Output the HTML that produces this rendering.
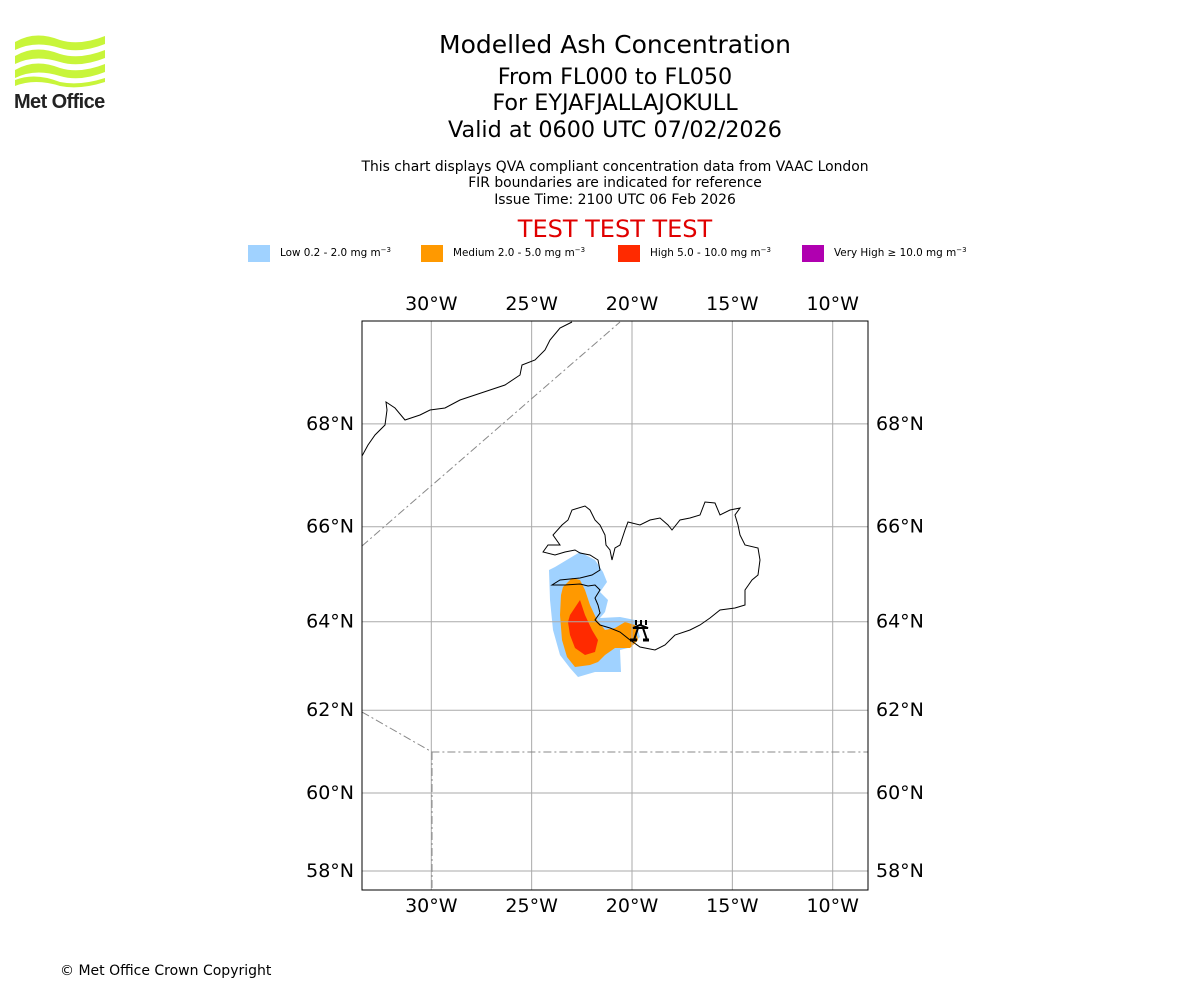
<!DOCTYPE html>
<html><head><meta charset="utf-8"><style>
body{margin:0;background:#fff;font-family:"Liberation Sans","DejaVu Sans",sans-serif}
</style></head><body>
<svg width="1200" height="1000" xmlns="http://www.w3.org/2000/svg" font-family="DejaVu Sans, Liberation Sans, sans-serif">
<g>
<path d="M15 42 Q35 30 60 40 Q80 46 105 36 L105 44 Q80 54 60 48 Q35 40 15 50Z" fill="#c8f53a"/>
<path d="M15 56 Q35 44 60 54 Q80 60 105 50 L105 58 Q80 68 60 62 Q35 54 15 64Z" fill="#c8f53a"/>
<path d="M15 70 Q35 58 60 68 Q80 74 105 64 L105 72 Q80 82 60 76 Q35 68 15 78Z" fill="#c8f53a"/>
<path d="M15 80 Q35 72 60 82 Q80 86 105 78 L105 82 Q80 90 60 86 Q35 78 15 86Z" fill="#c8f53a"/>
<text x="14" y="108" font-family="Liberation Sans, sans-serif" font-weight="bold" font-size="20" fill="#222" letter-spacing="-0.6">Met Office</text>
</g>
<g text-anchor="middle" fill="#000">
<text x="615" y="53" font-size="25">Modelled Ash Concentration</text>
<text x="615" y="84" font-size="22.3">From FL000 to FL050</text>
<text x="615" y="110" font-size="22.3">For EYJAFJALLAJOKULL</text>
<text x="615" y="137" font-size="22.3">Valid at 0600 UTC 07/02/2026</text>
<text x="615" y="171" font-size="13.9">This chart displays QVA compliant concentration data from VAAC London</text>
<text x="615" y="187" font-size="13.9">FIR boundaries are indicated for reference</text>
<text x="615" y="204" font-size="13.9">Issue Time: 2100 UTC 06 Feb 2026</text>
<text x="615" y="237" font-size="24" fill="#e00000">TEST TEST TEST</text>
</g>
<g font-size="10.4">
<rect x="248" y="245" width="22" height="17" fill="#a0d2ff"/>
<text x="280" y="256">Low 0.2 - 2.0 mg m<tspan dy="-4" font-size="7">−3</tspan></text>
<rect x="421" y="245" width="22" height="17" fill="#ff9900"/>
<text x="453" y="256">Medium 2.0 - 5.0 mg m<tspan dy="-4" font-size="7">−3</tspan></text>
<rect x="618" y="245" width="22" height="17" fill="#ff2a00"/>
<text x="650" y="256">High 5.0 - 10.0 mg m<tspan dy="-4" font-size="7">−3</tspan></text>
<rect x="802" y="245" width="22" height="17" fill="#b000b0"/>
<text x="834" y="256">Very High  ≥  10.0 mg m<tspan dy="-4" font-size="7">−3</tspan></text>
</g>
<defs><clipPath id="c"><rect x="362" y="321" width="506" height="569"/></clipPath></defs>
<g clip-path="url(#c)">
<path fill="#a0d2ff" d="M555 567 L580 552 L595 560 L603 572 L607 582 L600 592 L608 600 L605 612 L600 618 L620 617 L635 620 L640 637 L628 648 L620 650 L621 672 L595 672 L578 677 L570 668 L560 655 L553 630 L550 600 L549 570Z"/>
<path fill="#ff9900" d="M563 587 L572 578 L580 580 L585 590 L590 605 L597 620 L605 630 L615 628 L625 622 L635 625 L638 640 L630 648 L615 648 L605 655 L598 662 L590 665 L575 667 L567 657 L562 640 L560 615 L561 595Z"/>
<path fill="#ff2a00" d="M570 615 L580 600 L585 615 L592 630 L598 640 L595 652 L585 655 L575 648 L570 635 L568 622Z"/>
<g id="grid" stroke="#aaa" stroke-width="1" fill="none"></g>
<path fill="none" stroke="#000" stroke-width="1" d="M543 552 L548 545 L560 545 L553 535 L562 525 L568 520 L572 510 L585 506 L590 510 L595 520 L600 525 L605 535 L606 545 L610 550 L612 560 L615 548 L620 545 L625 530 L628 522 L640 525 L650 520 L660 518 L668 525 L672 530 L680 520 L690 518 L700 515 L705 502 L715 503 L720 515 L730 510 L740 508 L735 515 L738 525 L740 535 L745 545 L758 548 L760 560 L758 575 L752 580 L745 590 L745 605 L735 608 L720 610 L710 618 L700 625 L690 630 L675 635 L665 645 L655 650 L640 647 L630 640 L620 632 L610 628 L600 625 L595 620 L600 613 L598 605 L595 598 L600 590 L595 585 L588 586 L580 584 L565 585 L552 585 L560 580 L580 578 L592 575 L600 570 L598 560 L590 555 L580 553 L575 550 L565 552 L555 555Z"/>
<path fill="none" stroke="#000" d="M362 456 L368 445 L375 435 L385 425 L387 410 L386 402 L395 408 L405 420 L420 415 L430 410 L445 408 L460 400 L475 395 L490 390 L505 385 L520 375 L522 365 L535 360 L545 350 L550 340 L560 328 L572 322"/>
<g stroke="#888" fill="none" stroke-dasharray="8,3,2,3">
<path d="M362 546 L620 322"/><path d="M362 712 L432 752 L868 752"/><path d="M432 752 L432 890"/>
</g>
<g stroke="#000" stroke-width="2" fill="none">
<path d="M636 625 L636 620 M641 625 L641 620 M646 625 L646 620 M633 628 L648 628 L640 625 Z M638 628 L634 640 M643 628 L647 640"/>
<path d="M630 640 L637 640 M643 640 L649 640" stroke-width="3"/>
</g>
</g>
<rect x="362" y="321" width="506" height="569" fill="none" stroke="#000"/>
<g id="labels" font-size="19" fill="#000"></g>
<text x="60" y="975" font-size="14">© Met Office Crown Copyright</text>
</svg>
<script>
const lonTicks=[-30,-25,-20,-15,-10];
const latTicks=[58,60,62,64,66,68];
const x0=632,kx=20.07,k=1150;
function xs(lon){return x0+(lon+20)*kx;}
function merc(l){return Math.log(Math.tan(Math.PI/4+l*Math.PI/360));}
function ys(lat){return 871-(merc(lat)-merc(58))*k;}
const ns="http://www.w3.org/2000/svg";
const g=document.getElementById('grid'),L=document.getElementById('labels');
function mk(p,tag,a,txt){const e=document.createElementNS(ns,tag);for(const q in a)e.setAttribute(q,a[q]);if(txt)e.textContent=txt;p.appendChild(e);return e;}
lonTicks.forEach(v=>{const x=xs(v);
const l=mk(g,'line',{x1:x,x2:x,y1:321,y2:890});


const s=-v+'°W';
[310,912].forEach(y=>{const t=mk(L,'text',{x:x,y:y,'text-anchor':'middle'},s);

});});
latTicks.forEach(v=>{const y=ys(v);
const l=mk(g,'line',{x1:362,x2:868,y1:y,y2:y});


const s=v+'°N';
const a=mk(L,'text',{x:354,y:y+6,'text-anchor':'end'},s);


const b=mk(L,'text',{x:876,y:y+6},s);

});
</script>
</body></html>
